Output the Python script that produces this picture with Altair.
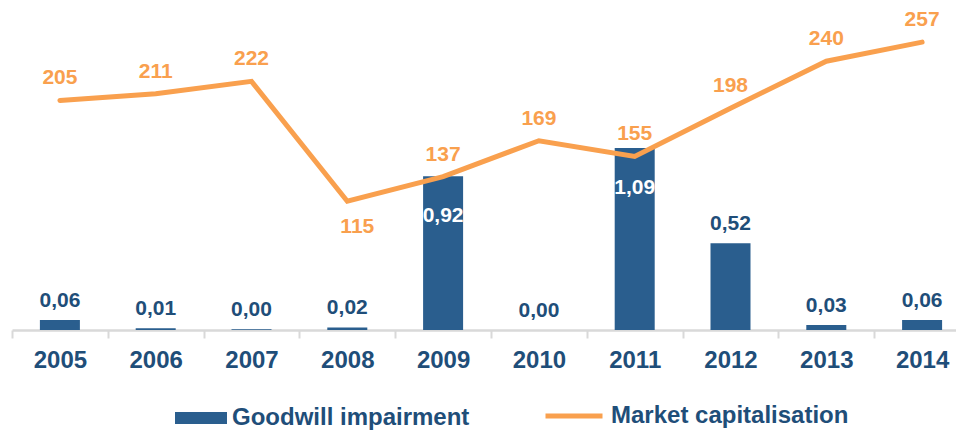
import altair as alt
import pandas as pd

years = ["2005", "2006", "2007", "2008", "2009", "2010", "2011", "2012", "2013", "2014"]
goodwill = [0.06, 0.01, 0.004, 0.015, 0.92, 0.0, 1.09, 0.52, 0.03, 0.06]
goodwill_labels = ["0,06", "0,01", "0,00", "0,02", "0,92", "0,00", "1,09", "0,52", "0,03", "0,06"]
goodwill_label_pos = ["out", "out", "out", "out", "in", "out", "in", "out", "out", "out"]
market_cap = [205, 211, 222, 115, 137, 169, 155, 198, 240, 257]
market_label_pos = ["above", "above", "above", "below", "above", "above", "above", "above", "above", "above"]

BLUE = "#2a5e8e"
TEXT = "#1f4e79"
ORANGE = "#f9a04e"
FONT = "Liberation Sans"

df = pd.DataFrame({
    "year": years,
    "goodwill": goodwill,
    "glabel": goodwill_labels,
    "gpos": goodwill_label_pos,
    "mcap": market_cap,
    "mpos": market_label_pos,
    "s1": "Goodwill impairment",
    "s2": "Market capitalisation",
})

x = alt.X("year:N", title=None,
          scale=alt.Scale(paddingInner=0, paddingOuter=0),
          axis=alt.Axis(labelAngle=0, labelFont=FONT, labelFontSize=24, labelFontWeight="bold",
                        labelColor=TEXT, labelPadding=10, domainColor="#d9d9d9", domainWidth=2.5,
                        tickColor="#d9d9d9", tickWidth=2, tickSize=8, tickBand="extent",
                        grid=False))
y_bar = alt.Y("goodwill:Q", scale=alt.Scale(domain=[0, 1.916]), axis=None)
y_line = alt.Y("mcap:Q", scale=alt.Scale(domain=[0, 285.7]), axis=None)

bars = alt.Chart(df).mark_bar(size=40).encode(
    x=x, y=y_bar,
    color=alt.Color("s1:N", scale=alt.Scale(domain=["Goodwill impairment"], range=[BLUE]),
                    legend=alt.Legend(title=None, orient="none", legendX=163, legendY=382,
                                      symbolType="M-1,-0.23H1V0.23H-1Z", symbolSize=2704,
                                      symbolStrokeWidth=0, labelOffset=5, labelLimit=400,
                                      labelFont=FONT, labelFontSize=24, labelFontWeight="bold",
                                      labelColor=TEXT)),
)
bar_out = alt.Chart(df).transform_filter(alt.datum.gpos == "out").mark_text(
    baseline="alphabetic", dy=-13, font=FONT, fontSize=21, fontWeight="bold", color=TEXT
).encode(x=x, y=y_bar, text="glabel:N")
bar_in = alt.Chart(df).transform_filter(alt.datum.gpos == "in").mark_text(
    baseline="alphabetic", dy=46, font=FONT, fontSize=21, fontWeight="bold", color="white"
).encode(x=x, y=y_bar, text="glabel:N")

line = alt.Chart(df).mark_line(strokeWidth=5, strokeCap="round").encode(
    x=x, y=y_line,
    stroke=alt.Stroke("s2:N", scale=alt.Scale(domain=["Market capitalisation"], range=[ORANGE]),
                      legend=alt.Legend(title=None, orient="none", legendX=531, legendY=375,
                                        symbolType="stroke", symbolSize=3249, symbolStrokeWidth=5,
                                        labelOffset=6, labelLimit=400, labelFont=FONT,
                                        labelFontSize=24, labelFontWeight="bold",
                                        labelColor=TEXT)),
)
line_above = alt.Chart(df).transform_filter(alt.datum.mpos == "above").mark_text(
    baseline="alphabetic", dy=-16, font=FONT, fontSize=21, fontWeight="bold", color=ORANGE
).encode(x=x, y=y_line, text="mcap:Q")
line_below = alt.Chart(df).transform_filter(alt.datum.mpos == "below").mark_text(
    baseline="alphabetic", dy=32, dx=10, font=FONT, fontSize=21, fontWeight="bold", color=ORANGE
).encode(x=x, y=y_line, text="mcap:Q")

left = alt.layer(bars, bar_out, bar_in)
right = alt.layer(line, line_above, line_below)

chart = alt.layer(left, right).resolve_scale(y="independent", color="independent").properties(
    width=958, height=320,
    autosize=alt.AutoSizeParams(type="none"),
    padding={"left": 4, "top": 2, "right": -14, "bottom": 100},
).configure_view(stroke=None)

chart.save("out.html", embed_options={"renderer": "svg", "actions": False})
